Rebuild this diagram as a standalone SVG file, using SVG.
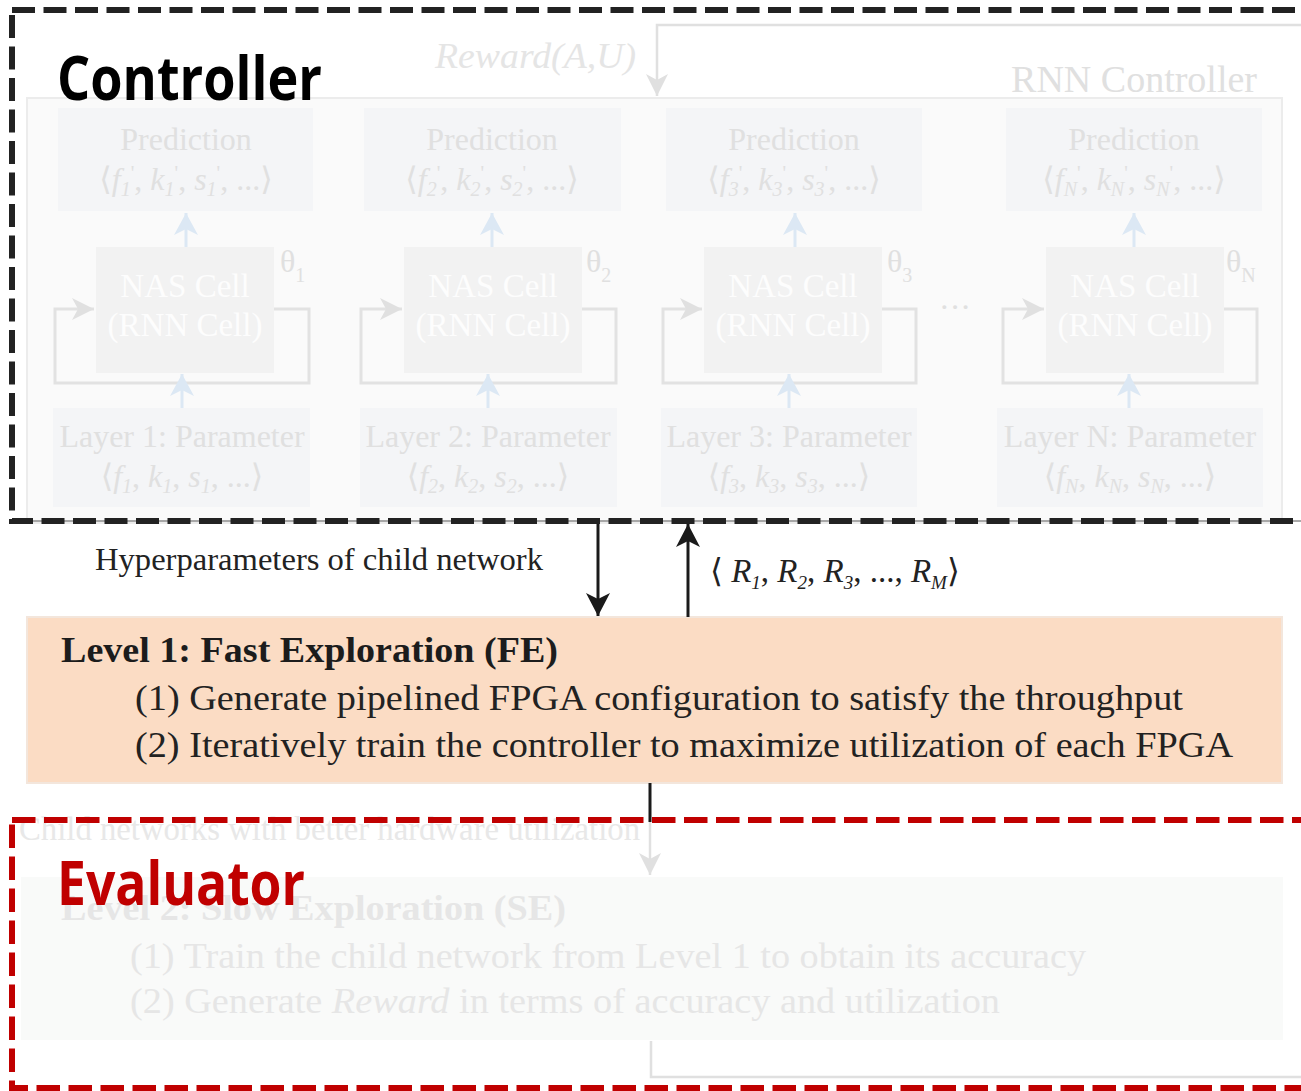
<svg xmlns="http://www.w3.org/2000/svg" width="1301" height="1091" viewBox="0 0 1301 1091">
<style>
.serif{font-family:"Liberation Serif","DejaVu Serif",serif}
.fade{fill:#e0e0e0}
.pred{fill:#f4f5f7}
.nas{fill:#f2f2f2}
.nastxt{fill:#fdfdfd;font-size:33px;text-anchor:middle}
.lbl{font-size:32px;text-anchor:middle}
.loop{fill:none;stroke:#e2e2e2;stroke-width:3}
.blue{fill:none;stroke:#dce8f4;stroke-width:3}
.gline{fill:none;stroke:#e0e0e0;stroke-width:2.5}
.blk{fill:none;stroke:#1a1a1a;stroke-width:3}
.title{font-family:"Open Sans","Liberation Sans",sans-serif;font-weight:700;font-size:60px}
.ital{font-style:italic}
</style>
<defs>
<marker id="ag" markerUnits="userSpaceOnUse" markerWidth="24" markerHeight="24" refX="22" refY="11" orient="auto" viewBox="0 0 24 24"><path d="M0,0 L22,11 L0,22 L6,11 z" fill="#e0e0e0"/></marker>
<marker id="ab" markerUnits="userSpaceOnUse" markerWidth="24" markerHeight="26" refX="22" refY="12" orient="auto" viewBox="0 0 24 26"><path d="M0,0 L22,12 L0,24 L6,12 z" fill="#dce8f4"/></marker>
<marker id="ak" markerUnits="userSpaceOnUse" markerWidth="26" markerHeight="26" refX="23" refY="12" orient="auto" viewBox="0 0 26 26"><path d="M0,0 L23,12 L0,24 L6,12 z" fill="#1a1a1a"/></marker>
</defs>
<rect width="1301" height="1091" fill="#ffffff"/>

<g id="rnn-controller">
<rect x="27" y="98" width="1255" height="425" fill="#fafafa" stroke="#ececec" stroke-width="2"/>
<text class="serif fade" x="1257" y="92" font-size="38" text-anchor="end">RNN Controller</text>
</g>

<g id="reward-label">
<text class="serif ital" x="435" y="68" font-size="36" fill="#e5e5e5" textLength="201" lengthAdjust="spacingAndGlyphs">Reward(A,U)</text>
</g>

<g id="col1">
<rect class="pred" x="58" y="108" width="255" height="103"/>
<text class="serif fade lbl" x="186" y="150">Prediction</text>
<text class="serif fade lbl" x="186" y="190">⟨<tspan class="ital">f</tspan><tspan font-size="20" class="ital" dy="6">1</tspan><tspan font-size="20" dy="-16">'</tspan><tspan dy="10">, </tspan><tspan class="ital">k</tspan><tspan font-size="20" class="ital" dy="6">1</tspan><tspan font-size="20" dy="-16">'</tspan><tspan dy="10">, </tspan><tspan class="ital">s</tspan><tspan font-size="20" class="ital" dy="6">1</tspan><tspan font-size="20" dy="-16">'</tspan><tspan dy="10">, ...⟩</tspan></text>
<rect class="nas" x="96" y="247" width="178" height="126"/>
<text class="serif nastxt" x="185" y="297">NAS Cell</text>
<text class="serif nastxt" x="185" y="336">(RNN Cell)</text>
<text class="serif fade" x="280" y="272" font-size="32">θ<tspan font-size="20" dy="10">1</tspan></text>
<rect class="pred" x="53" y="408" width="257" height="99"/>
<text class="serif fade lbl" x="182" y="447" font-size="33">Layer 1: Parameter</text>
<text class="serif fade lbl" x="182" y="487">⟨<tspan class="ital">f</tspan><tspan font-size="20" class="ital" dy="6">1</tspan><tspan dy="-6">, </tspan><tspan class="ital">k</tspan><tspan font-size="20" class="ital" dy="6">1</tspan><tspan dy="-6">, </tspan><tspan class="ital">s</tspan><tspan font-size="20" class="ital" dy="6">1</tspan><tspan dy="-6">, ...⟩</tspan></text>
</g>

<g id="col2">
<rect class="pred" x="364" y="108" width="257" height="103"/>
<text class="serif fade lbl" x="492" y="150">Prediction</text>
<text class="serif fade lbl" x="492" y="190">⟨<tspan class="ital">f</tspan><tspan font-size="20" class="ital" dy="6">2</tspan><tspan font-size="20" dy="-16">'</tspan><tspan dy="10">, </tspan><tspan class="ital">k</tspan><tspan font-size="20" class="ital" dy="6">2</tspan><tspan font-size="20" dy="-16">'</tspan><tspan dy="10">, </tspan><tspan class="ital">s</tspan><tspan font-size="20" class="ital" dy="6">2</tspan><tspan font-size="20" dy="-16">'</tspan><tspan dy="10">, ...⟩</tspan></text>
<rect class="nas" x="404" y="247" width="178" height="126"/>
<text class="serif nastxt" x="493" y="297">NAS Cell</text>
<text class="serif nastxt" x="493" y="336">(RNN Cell)</text>
<text class="serif fade" x="586" y="272" font-size="32">θ<tspan font-size="20" dy="10">2</tspan></text>
<rect class="pred" x="360" y="408" width="257" height="99"/>
<text class="serif fade lbl" x="488" y="447" font-size="33">Layer 2: Parameter</text>
<text class="serif fade lbl" x="488" y="487">⟨<tspan class="ital">f</tspan><tspan font-size="20" class="ital" dy="6">2</tspan><tspan dy="-6">, </tspan><tspan class="ital">k</tspan><tspan font-size="20" class="ital" dy="6">2</tspan><tspan dy="-6">, </tspan><tspan class="ital">s</tspan><tspan font-size="20" class="ital" dy="6">2</tspan><tspan dy="-6">, ...⟩</tspan></text>
</g>

<g id="col3">
<rect class="pred" x="666" y="108" width="256" height="103"/>
<text class="serif fade lbl" x="794" y="150">Prediction</text>
<text class="serif fade lbl" x="794" y="190">⟨<tspan class="ital">f</tspan><tspan font-size="20" class="ital" dy="6">3</tspan><tspan font-size="20" dy="-16">'</tspan><tspan dy="10">, </tspan><tspan class="ital">k</tspan><tspan font-size="20" class="ital" dy="6">3</tspan><tspan font-size="20" dy="-16">'</tspan><tspan dy="10">, </tspan><tspan class="ital">s</tspan><tspan font-size="20" class="ital" dy="6">3</tspan><tspan font-size="20" dy="-16">'</tspan><tspan dy="10">, ...⟩</tspan></text>
<rect class="nas" x="704" y="247" width="178" height="126"/>
<text class="serif nastxt" x="793" y="297">NAS Cell</text>
<text class="serif nastxt" x="793" y="336">(RNN Cell)</text>
<text class="serif fade" x="887" y="272" font-size="32">θ<tspan font-size="20" dy="10">3</tspan></text>
<rect class="pred" x="661" y="408" width="256" height="99"/>
<text class="serif fade lbl" x="789" y="447" font-size="33">Layer 3: Parameter</text>
<text class="serif fade lbl" x="789" y="487">⟨<tspan class="ital">f</tspan><tspan font-size="20" class="ital" dy="6">3</tspan><tspan dy="-6">, </tspan><tspan class="ital">k</tspan><tspan font-size="20" class="ital" dy="6">3</tspan><tspan dy="-6">, </tspan><tspan class="ital">s</tspan><tspan font-size="20" class="ital" dy="6">3</tspan><tspan dy="-6">, ...⟩</tspan></text>
</g>

<g id="ellipsis">
<text class="serif fade" x="955" y="318" font-size="32" text-anchor="middle">···</text>
</g>

<g id="col4">
<rect class="pred" x="1006" y="108" width="256" height="103"/>
<text class="serif fade lbl" x="1134" y="150">Prediction</text>
<text class="serif fade lbl" x="1134" y="190">⟨<tspan class="ital">f</tspan><tspan font-size="20" class="ital" dy="6">N</tspan><tspan font-size="20" dy="-16">'</tspan><tspan dy="10">, </tspan><tspan class="ital">k</tspan><tspan font-size="20" class="ital" dy="6">N</tspan><tspan font-size="20" dy="-16">'</tspan><tspan dy="10">, </tspan><tspan class="ital">s</tspan><tspan font-size="20" class="ital" dy="6">N</tspan><tspan font-size="20" dy="-16">'</tspan><tspan dy="10">, ...⟩</tspan></text>
<rect class="nas" x="1046" y="247" width="178" height="126"/>
<text class="serif nastxt" x="1135" y="297">NAS Cell</text>
<text class="serif nastxt" x="1135" y="336">(RNN Cell)</text>
<text class="serif fade" x="1226" y="272" font-size="32">θ<tspan font-size="20" dy="10">N</tspan></text>
<rect class="pred" x="997" y="408" width="266" height="99"/>
<text class="serif fade lbl" x="1130" y="447" font-size="33">Layer N: Parameter</text>
<text class="serif fade lbl" x="1130" y="487">⟨<tspan class="ital">f</tspan><tspan font-size="20" class="ital" dy="6">N</tspan><tspan dy="-6">, </tspan><tspan class="ital">k</tspan><tspan font-size="20" class="ital" dy="6">N</tspan><tspan dy="-6">, </tspan><tspan class="ital">s</tspan><tspan font-size="20" class="ital" dy="6">N</tspan><tspan dy="-6">, ...⟩</tspan></text>
</g>

<g id="fe">
<rect x="27" y="617" width="1255" height="166" fill="#fbdcc4" stroke="#f3e6dc" stroke-width="2"/>
<text class="serif" x="61" y="662" font-size="35" font-weight="700" fill="#1c1c1c" textLength="497" lengthAdjust="spacingAndGlyphs">Level 1: Fast Exploration (FE)</text>
<text class="serif" x="135" y="710" font-size="35" fill="#222" textLength="1048" lengthAdjust="spacingAndGlyphs">(1) Generate pipelined FPGA configuration to satisfy the throughput</text>
<text class="serif" x="135" y="757" font-size="35" fill="#222" textLength="1098" lengthAdjust="spacingAndGlyphs">(2) Iteratively train the controller to maximize utilization of each FPGA</text>
</g>

<g id="se">
<text class="serif" x="19" y="840" font-size="33" fill="#e8e8e8" textLength="621" lengthAdjust="spacingAndGlyphs">Child networks with better hardware utilization</text>
<rect x="21" y="877" width="1262" height="163" fill="#f9faf9"/>
<text class="serif" x="61" y="920" font-size="35" font-weight="700" fill="#e6e6e6" textLength="505" lengthAdjust="spacingAndGlyphs">Level 2: Slow Exploration (SE)</text>
<text class="serif" x="130" y="968" font-size="35" fill="#e6e6e6" textLength="956" lengthAdjust="spacingAndGlyphs">(1) Train the child network from Level 1 to obtain its accuracy</text>
<text class="serif" x="130" y="1013" font-size="35" fill="#e6e6e6" textLength="870" lengthAdjust="spacingAndGlyphs">(2) Generate <tspan class="ital">Reward</tspan> in terms of accuracy and utilization</text>
</g>

<g id="connectors">
<path class="gline" d="M1301,25 H657 V96" marker-end="url(#ag)"/>
<path class="loop" d="M274,309 H309 V383 H55 V309 H94" marker-end="url(#ag)"/>
<path class="loop" d="M582,309 H616 V383 H361 V309 H402" marker-end="url(#ag)"/>
<path class="loop" d="M882,309 H916 V383 H663 V309 H702" marker-end="url(#ag)"/>
<path class="loop" d="M1224,309 H1257 V383 H1003 V309 H1044" marker-end="url(#ag)"/>
<path class="blue" d="M186,247 V213" marker-end="url(#ab)"/>
<path class="blue" d="M492,247 V213" marker-end="url(#ab)"/>
<path class="blue" d="M795,247 V213" marker-end="url(#ab)"/>
<path class="blue" d="M1134,247 V213" marker-end="url(#ab)"/>
<path class="blue" d="M182,408 V374" marker-end="url(#ab)"/>
<path class="blue" d="M488,408 V374" marker-end="url(#ab)"/>
<path class="blue" d="M789,408 V374" marker-end="url(#ab)"/>
<path class="blue" d="M1129,408 V374" marker-end="url(#ab)"/>
<path class="blk" d="M598,522 V616" marker-end="url(#ak)"/>
<path class="blk" d="M688,617 V524" marker-end="url(#ak)"/>
<path class="gline" d="M650,820 V875" marker-end="url(#ag)"/>
<path class="blk" d="M650,783 V822"/>
<path class="gline" d="M651,1041 V1077 H1301"/>
<text class="serif" x="95" y="570" font-size="32" fill="#222" textLength="448" lengthAdjust="spacingAndGlyphs">Hyperparameters of child network</text>
<text class="serif" x="710" y="582" font-size="33" fill="#222">⟨ <tspan class="ital">R</tspan><tspan class="ital" font-size="19" dy="7">1</tspan><tspan dy="-7">, </tspan><tspan class="ital">R</tspan><tspan class="ital" font-size="19" dy="7">2</tspan><tspan dy="-7">, </tspan><tspan class="ital">R</tspan><tspan class="ital" font-size="19" dy="7">3</tspan><tspan dy="-7">, ..., </tspan><tspan class="ital">R</tspan><tspan class="ital" font-size="19" dy="7">M</tspan><tspan dy="-7">⟩</tspan></text>
</g>

<g id="controller-frame">
<line x1="12" y1="521" x2="1301" y2="521" stroke="#555" stroke-width="1"/>
<rect x="12" y="10" width="1330" height="511" fill="none" stroke="#222" stroke-width="6" stroke-dasharray="23 8.5"/>
<text class="title" x="57" y="100" fill="#000" textLength="265" lengthAdjust="spacingAndGlyphs">Controller</text>
</g>

<g id="evaluator-frame">
<rect x="12" y="820" width="1330" height="268" fill="none" stroke="#c00000" stroke-width="6" stroke-dasharray="23.5 8.5"/>
<text class="title" x="57" y="905" fill="#c00000" textLength="248" lengthAdjust="spacingAndGlyphs">Evaluator</text>
</g>
</svg>
